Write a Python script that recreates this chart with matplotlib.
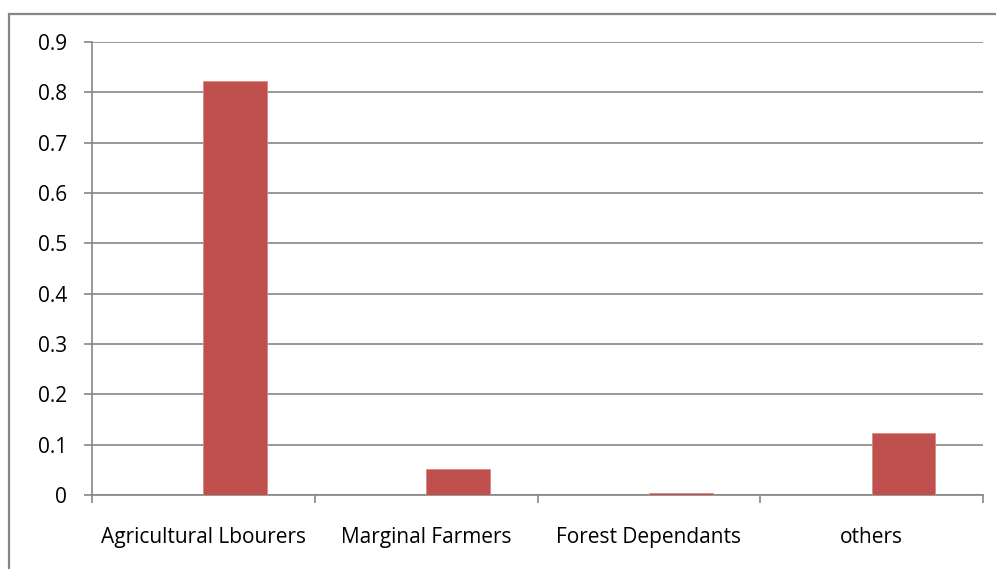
import matplotlib
matplotlib.use("Agg")
import matplotlib.pyplot as plt
import matplotlib.patches as mpatches
import numpy as np

categories = ["Agricultural Lbourers", "Marginal Farmers", "Forest Dependants", "others"]
values = [0.822, 0.051, 0.004, 0.123]
yticks = [0, 0.1, 0.2, 0.3, 0.4, 0.5, 0.6, 0.7, 0.8, 0.9]

BAR_COLOR = "#C0504D"
GRID = "#868686"

plt.rcParams["font.family"] = ["Open Sans", "DejaVu Sans"]

W, H = 996, 569
fig = plt.figure(figsize=(W / 100, H / 100), dpi=100)
ax = fig.add_axes([92 / W, (H - 495) / H, (983 - 92) / W, (495 - 42) / H])

# outer chart frame (runs off the right and bottom edges)
fig.patches.append(mpatches.Rectangle((9 / W, -0.05), 1.2, (H - 14) / H + 0.05,
                                      transform=fig.transFigure, fill=False,
                                      edgecolor=GRID, linewidth=1.6))

x = np.arange(len(categories))
width = 1 / 3.5  # two series, gap width 150% -> second series only
ax.bar(x + width / 2, values, width, color=BAR_COLOR, edgecolor="#D88785",
       linewidth=0.6, zorder=3)

ax.set_xlim(-0.5, len(categories) - 0.5)
ax.set_ylim(0, 0.9)
ax.set_yticks(yticks)
ax.set_yticklabels([f"{v:g}" for v in yticks], fontsize=15)
ax.yaxis.grid(True, color=GRID, linewidth=1.2, zorder=0)

ax.set_xticks(x)
ax.set_xticklabels(categories, fontsize=15)
ax.set_xticks(np.arange(len(categories) + 1) - 0.5, minor=True)
ax.tick_params(axis="x", which="major", length=0, pad=23)
ax.tick_params(axis="x", which="minor", length=6, width=1.2, color=GRID)
ax.tick_params(axis="y", length=6, width=1.2, color=GRID, pad=12)

for side in ["top", "right"]:
    ax.spines[side].set_visible(False)
for side in ["left", "bottom"]:
    ax.spines[side].set_color(GRID)
    ax.spines[side].set_linewidth(1.2)

fig.savefig("out.png", dpi=100)
